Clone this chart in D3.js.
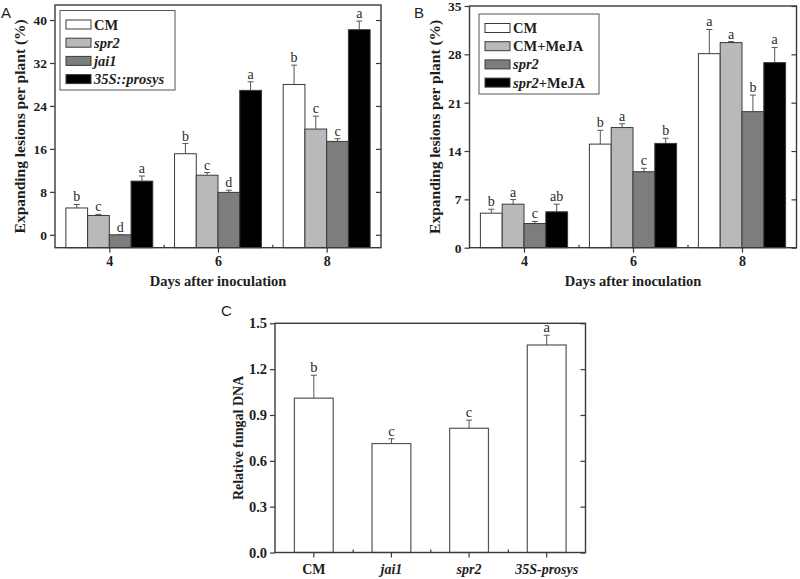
<!DOCTYPE html>
<html lang="en">
<head>
<meta charset="utf-8">
<title>Lesions and fungal DNA</title>
<style>
  body { margin: 0; background: #fff; }
  svg text { font-family: "Liberation Serif", "Times New Roman", serif; fill: #1e1e1e; }
  .bold { font-weight: bold; }
  .plab { font-family: "Liberation Sans", Arial, sans-serif !important; font-size: 15px; }
</style>
</head>
<body>
<svg id="fig" width="800" height="579"></svg>
<script src="https://d3js.org/d3.v7.min.js"></script>
<script>
  // x categories for A and B
  var days = [4, 6, 8];

  // panel A
  var namesA = ["CM", "spr2", "jai1", "35S::prosys"];
  var meansA = [
    [5.0, 15.1, 28.0],
    [3.6, 11.1, 19.7],
    [0.0, 7.9, 17.4],
    [10.0, 26.9, 38.2]
  ];
  var errA = [
    [0.65, 1.9, 3.6],
    [0.2, 0.5, 2.4],
    [0.0, 0.4, 0.5],
    [0.95, 1.6, 1.6]
  ];
  var lettersA = [
    ["b", "b", "b"],
    ["c", "c", "c"],
    ["d", "d", "c"],
    ["a", "a", "a"]
  ];
  var ticksA = [0, 8, 16, 24, 32, 40];

  // panel B
  var namesB = ["CM", "CM+MeJA", "spr2", "spr2+MeJA"];
  var meansB = [
    [5.0, 15.0, 28.1],
    [6.3, 17.4, 29.7],
    [3.5, 11.0, 19.7],
    [5.2, 15.1, 26.8]
  ];
  var errB = [
    [0.57, 2.0, 3.5],
    [0.67, 0.55, 0.15],
    [0.3, 0.5, 2.4],
    [1.1, 0.75, 2.2]
  ];
  var lettersB = [
    ["b", "b", "a"],
    ["a", "a", "a"],
    ["c", "c", "b"],
    ["ab", "b", "a"]
  ];
  var ticksB = [0, 7, 14, 21, 28, 35];

  // panel C
  var namesC = ["CM", "jai1", "spr2", "35S-prosys"];
  var meansC = [1.01, 0.713, 0.813, 1.358];
  var errC = [0.15, 0.031, 0.053, 0.064];
  var lettersC = ["b", "c", "c", "a"];
  var ticksC = [0, 0.3, 0.6, 0.9, 1.2, 1.5];

  var fills = ["#ffffff", "#b9b9b9", "#7d7d7d", "#000000"];
  var lineCol = "#3a3a3a";

  var svg = d3.select("#fig");

  // write a label, italicising the genotype names
  function richText(sel, str) {
    str.split(/(spr2|jai1|35S::prosys|35S-prosys)/).forEach(function(part) {
      if (part === "") return;
      let t = sel.append("tspan").text(part);
      if (/^(spr2|jai1|35S::prosys|35S-prosys)$/.test(part)) t.attr("font-style", "italic");
    });
  }

  function styleAxis(g, fs) {
    g.select(".domain").remove();
    g.selectAll("line").attr("stroke", lineCol).attr("stroke-width", 1.2);
    g.selectAll("text").attr("class", "bold").attr("font-size", fs).attr("fill", "#1e1e1e");
  }

  function frame(box) {
    svg.append("rect")
      .attr("x", box.l).attr("y", box.t)
      .attr("width", box.r - box.l).attr("height", box.b - box.t)
      .attr("fill", "none").attr("stroke", lineCol).attr("stroke-width", 1.4);
  }

  // grouped bar panel (A and B)
  function grouped(box, yDomain, yTicks, names, means, errs, letters, legend) {
    let x = d3.scaleLinear().domain([3, 9]).range([box.l, box.r]);
    let y = d3.scaleLinear().domain(yDomain).range([box.b, box.t]);
    let bw = 0.4;
    let g = svg.append("g");

    names.forEach(function(nm, s) {
      let rows = days.map(function(d, i) {
        return { x0: d - 0.8 + s * bw, v: means[s][i], e: errs[s][i], lt: letters[s][i] };
      });
      let eb = g.selectAll(null).data(rows).enter().append("g");
      eb.append("line")
        .attr("x1", d => x(d.x0 + bw / 2)).attr("x2", d => x(d.x0 + bw / 2))
        .attr("y1", d => y(d.v)).attr("y2", d => y(d.v + d.e))
        .attr("stroke", "#555").attr("stroke-width", 1);
      eb.append("line")
        .attr("x1", d => x(d.x0 + bw / 2) - 3).attr("x2", d => x(d.x0 + bw / 2) + 3)
        .attr("y1", d => y(d.v + d.e)).attr("y2", d => y(d.v + d.e))
        .attr("stroke", "#555").attr("stroke-width", 1);
      g.selectAll(null).data(rows).enter().append("rect")
        .attr("x", d => x(d.x0))
        .attr("width", x(bw) - x(0))
        .attr("y", d => y(d.v))
        .attr("height", d => y(yDomain[0]) - y(d.v))
        .attr("fill", fills[s])
        .attr("stroke", lineCol).attr("stroke-width", 1);
      g.selectAll(null).data(rows).enter().append("text")
        .attr("x", d => x(d.x0 + bw / 2))
        .attr("y", d => y(d.v + d.e) - 3)
        .attr("text-anchor", "middle")
        .attr("font-size", 14)
        .style("fill", "#2a2a2a")
        .text(d => d.lt);
    });

    // axes
    let la = svg.append("g").attr("transform", "translate(" + box.l + ",0)")
      .call(d3.axisLeft(y).tickValues(yTicks).tickSize(5).tickPadding(3).tickFormat(d3.format("d")));
    styleAxis(la, 13.5);
    let ra = svg.append("g").attr("transform", "translate(" + box.r + ",0)")
      .call(d3.axisLeft(y).tickValues(yTicks).tickSize(5).tickFormat(""));
    styleAxis(ra, 13);
    let ba = svg.append("g").attr("transform", "translate(0," + box.b + ")")
      .call(d3.axisBottom(x).tickValues(days).tickSize(5).tickPadding(3).tickFormat(d3.format("d")));
    styleAxis(ba, 14);
    let mi = svg.append("g").attr("transform", "translate(0," + box.b + ")")
      .call(d3.axisTop(x).tickValues([5, 7]).tickSize(3).tickFormat(""));
    styleAxis(mi, 13);
    frame(box);

    // titles
    svg.append("text").attr("class", "bold")
      .attr("x", (box.l + box.r) / 2).attr("y", box.b + 38)
      .attr("text-anchor", "middle").attr("font-size", 14.5)
      .text("Days after inoculation");
    svg.append("text").attr("class", "bold")
      .attr("transform", "translate(" + (box.l - 30) + "," + ((box.t + box.b) / 2) + ") rotate(-90)")
      .attr("text-anchor", "middle").attr("font-size", 15.5)
      .text("Expanding lesions per plant (%)");

    // legend
    svg.append("rect")
      .attr("x", legend.x).attr("y", legend.y)
      .attr("width", legend.w).attr("height", legend.h)
      .attr("fill", "#fff").attr("stroke", "#555").attr("stroke-width", 1);
    names.forEach(function(nm, s) {
      let cy = legend.y + 14 + s * 18.2;
      svg.append("rect")
        .attr("x", legend.x + 6).attr("y", cy - 4.5)
        .attr("width", 25).attr("height", 9)
        .attr("fill", fills[s]).attr("stroke", lineCol).attr("stroke-width", 1);
      let t = svg.append("text").attr("class", "bold")
        .attr("x", legend.x + 34).attr("y", cy + 5)
        .attr("font-size", 14.5);
      richText(t, nm);
    });
  }

  var boxA = { l: 55, r: 381, t: 5, b: 247.7 };
  var boxB = { l: 469.5, r: 796.5, t: 6, b: 247.7 };
  var boxC = { l: 275, r: 585.5, t: 323.3, b: 552.5 };

  grouped(boxA, [-2.4, 42.8], ticksA, namesA, meansA, errA, lettersA,
    { x: 60, y: 10.5, w: 115, h: 79.5 });
  grouped(boxB, [0, 35], ticksB, namesB, meansB, errB, lettersB,
    { x: 479, y: 14, w: 120, h: 80 });

  // panel C
  var xC = d3.scaleBand().domain(namesC).range([boxC.l, boxC.r]).paddingInner(0.5).paddingOuter(0.25);
  var yC = d3.scaleLinear().domain([0, 1.5]).range([boxC.b, boxC.t]);
  var gC = svg.append("g");
  var rowsC = namesC.map((n, i) => ({ n: n, v: meansC[i], e: errC[i], lt: lettersC[i] }));
  gC.selectAll(null).data(rowsC).enter().append("line")
    .attr("x1", d => xC(d.n) + xC.bandwidth() / 2).attr("x2", d => xC(d.n) + xC.bandwidth() / 2)
    .attr("y1", d => yC(d.v)).attr("y2", d => yC(d.v + d.e))
    .attr("stroke", "#555");
  gC.selectAll(null).data(rowsC).enter().append("line")
    .attr("x1", d => xC(d.n) + xC.bandwidth() / 2 - 3).attr("x2", d => xC(d.n) + xC.bandwidth() / 2 + 3)
    .attr("y1", d => yC(d.v + d.e)).attr("y2", d => yC(d.v + d.e))
    .attr("stroke", "#555");
  gC.selectAll(null).data(rowsC).enter().append("rect")
    .attr("x", d => xC(d.n)).attr("width", xC.bandwidth())
    .attr("y", d => yC(d.v)).attr("height", d => yC(0) - yC(d.v))
    .attr("fill", "#fff").attr("stroke", "#555").attr("stroke-width", 1.2);
  gC.selectAll(null).data(rowsC).enter().append("text")
    .attr("x", d => xC(d.n) + xC.bandwidth() / 2)
    .attr("y", d => yC(d.v + d.e) - 3)
    .attr("text-anchor", "middle").attr("font-size", 14.5)
    .style("fill", "#2a2a2a")
    .text(d => d.lt);

  var laC = svg.append("g").attr("transform", "translate(" + boxC.l + ",0)")
    .call(d3.axisLeft(yC).tickValues(ticksC).tickSize(5).tickPadding(3).tickFormat(d3.format(".1f")));
  styleAxis(laC, 14.5);
  var raC = svg.append("g").attr("transform", "translate(" + boxC.r + ",0)")
    .call(d3.axisLeft(yC).tickValues(ticksC).tickSize(5).tickFormat(""));
  styleAxis(raC, 14);
  var baC = svg.append("g").attr("transform", "translate(0," + boxC.b + ")")
    .call(d3.axisBottom(xC).tickSize(5).tickPadding(7).tickFormat(""));
  styleAxis(baC, 14);
  baC.selectAll(".tick").each(function(d) {
    let t = d3.select(this).append("text").attr("class", "bold")
      .attr("y", 12).attr("dy", "0.71em")
      .attr("text-anchor", "middle").attr("font-size", 14);
    richText(t, d);
  });
  // minor ticks between the bars
  var miC = svg.append("g").attr("transform", "translate(0," + boxC.b + ")")
    .call(d3.axisTop(d3.scaleLinear().domain([0, 4]).range([boxC.l, boxC.r])).tickValues([1, 2, 3]).tickSize(3).tickFormat(""));
  styleAxis(miC, 14);
  frame(boxC);
  svg.append("text").attr("class", "bold")
    .attr("transform", "translate(243," + ((boxC.t + boxC.b) / 2) + ") rotate(-90)")
    .attr("text-anchor", "middle").attr("font-size", 14)
    .text("Relative fungal DNA");

  // panel letters
  svg.append("text").attr("class", "plab").attr("x", 1).attr("y", 18).text("A");
  svg.append("text").attr("class", "plab").attr("x", 414).attr("y", 18).text("B");
  svg.append("text").attr("class", "plab").attr("x", 221).attr("y", 316).text("C");
</script>
</body>
</html>
